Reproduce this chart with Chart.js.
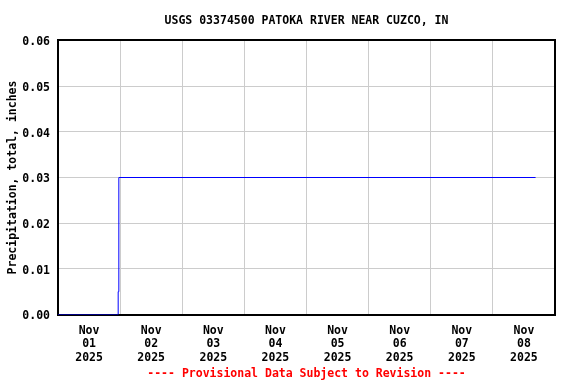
<!DOCTYPE html>
<html>
<head>
<meta charset="utf-8">
<script src="https://cdn.jsdelivr.net/npm/chart.js@4"></script>
<style>
html,body{margin:0;padding:0;background:#fff;}
#wrap{width:576px;height:384px;position:relative;}
</style>
</head>
<body>
<div id="wrap"><canvas id="c" width="576" height="384"></canvas></div>
<script>
// Hours since 2025-11-01 00:00 and cumulative precipitation (inches)
const hours = [0, 23.25, 23.5, 184.5];
const precip = [0, 0.005, 0.03, 0.03];
const dayLabels = ['01','02','03','04','05','06','07','08'];
const monthLabel = 'Nov';
const yearLabel = '2025';
const yTicks = [0, 0.01, 0.02, 0.03, 0.04, 0.05, 0.06];
const titleText = 'USGS 03374500 PATOKA RIVER NEAR CUZCO, IN';
const footerText = '---- Provisional Data Subject to Revision ----';
const yTitle = 'Precipitation, total, inches';

const FONT = "'DejaVu Sans Mono', 'Liberation Mono', monospace";
const fnt = {family: FONT, size: 11.5, weight: 'bold', lineHeight: 1.15};

const frame = {
  id: 'frame',
  beforeDatasetsDraw(chart) {
    const a = chart.chartArea, ctx = chart.ctx;
    const L = Math.round(a.left), T = Math.floor(a.top);
    const R = Math.round(a.right), B = Math.ceil(a.bottom);
    ctx.save();
    ctx.strokeStyle = '#000';
    ctx.lineWidth = 2;
    ctx.strokeRect(L, T, R - L, B - T);
    ctx.restore();
  }
};

new Chart(document.getElementById('c'), {
  type: 'line',
  data: {
    datasets: [{
      data: hours.map((h, i) => ({x: h, y: precip[i]})),
      borderColor: '#0000ff',
      borderWidth: 1,
      pointRadius: 0,
      stepped: 'before',
      fill: false
    }]
  },
  options: {
    responsive: false,
    animation: false,
    devicePixelRatio: 1,
    layout: {padding: {left: 0, right: 21, top: 0, bottom: 0}},
    plugins: {
      legend: {display: false},
      tooltip: {enabled: false},
      title: {
        display: true, text: titleText, color: '#000', font: fnt, fullSize: false,
        padding: {top: 14, bottom: 13.275}
      },
      subtitle: {
        display: true, position: 'bottom', text: footerText, color: '#ff0000', font: fnt, fullSize: false,
        padding: {top: 4, bottom: 3}
      }
    },
    scales: {
      x: {
        type: 'linear',
        min: 0, max: 192,
        afterBuildTicks(scale) {
          const t = [];
          for (let v = 0; v <= 192; v += 12) t.push({value: v});
          scale.ticks = t;
        },
        afterFit(scale) { scale.height = 49.275; },
        grid: {
          color: (ctx) => (ctx.tick && ctx.tick.value % 24 === 0) ? '#cccccc' : 'rgba(0,0,0,0)',
          drawTicks: false,
          lineWidth: 1
        },
        border: {color: '#000', width: 1},
        ticks: {
          autoSkip: false, maxRotation: 0, minRotation: 0,
          padding: 10, color: '#000', font: fnt,
          callback: (v) => {
            if (v % 24 !== 12) return '';
            const d = Math.floor(v / 24);
            return [monthLabel, dayLabels[d], yearLabel];
          }
        }
      },
      y: {
        min: 0, max: 0.06,
        afterBuildTicks(scale) { scale.ticks = yTicks.map(v => ({value: v})); },
        afterFit(scale) { scale.width = 58; },
        grid: {color: '#cccccc', drawTicks: false, lineWidth: 1},
        border: {color: '#000', width: 1},
        ticks: {
          padding: 8, color: '#000', font: fnt, labelOffset: 2,
          callback: (v) => v.toFixed(2)
        },
        title: {
          display: true, text: yTitle, color: '#000', font: fnt,
          padding: {top: 6, bottom: 0}
        }
      }
    }
  },
  plugins: [frame]
});
</script>
</body>
</html>
